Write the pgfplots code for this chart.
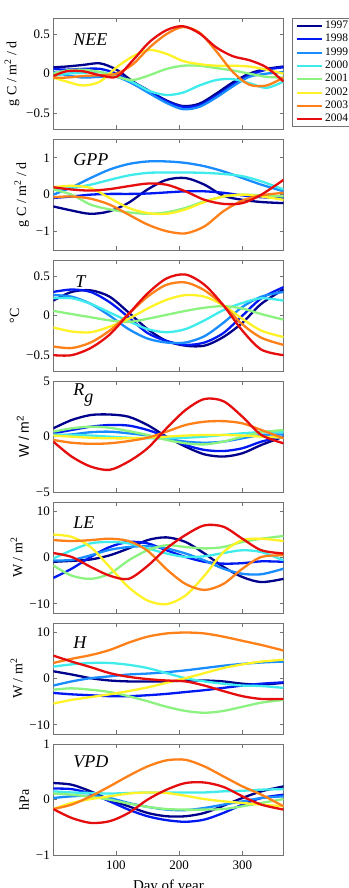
\documentclass[border=0pt]{standalone}
\usepackage{pgfplots}
\usepackage{pgfplotstable}
\pgfplotsset{compat=1.18}
\usepackage{fontspec}
\setmainfont{Liberation Serif}
\newfontfamily\sansfont{Liberation Sans}

% one colour per year (jet-like sequence)
\definecolor{c1997}{rgb}{0.00,0.00,0.55}
\definecolor{c1998}{rgb}{0.00,0.10,0.95}
\definecolor{c1999}{rgb}{0.10,0.55,1.00}
\definecolor{c2000}{rgb}{0.25,0.92,0.92}
\definecolor{c2001}{rgb}{0.55,0.95,0.50}
\definecolor{c2002}{rgb}{1.00,0.95,0.15}
\definecolor{c2003}{rgb}{1.00,0.50,0.10}
\definecolor{c2004}{rgb}{0.90,0.05,0.05}
\definecolor{axgray}{gray}{0.45}

% seasonal anomalies per year
\pgfplotstableread{
d   y1997 y1998 y1999 y2000 y2001 y2002 y2003 y2004
1    0.08  0.06  0.02 -0.03  0.00 -0.05 -0.05 -0.03
22   0.09  0.05 -0.02  0.00  0.04 -0.10 -0.05  0.03
48   0.11  0.06 -0.05  0.01  0.05 -0.15 -0.03  0.03
75   0.13  0.06 -0.04  0.02  0.02 -0.10 -0.02 -0.02
101  0.05  0.00 -0.04 -0.03 -0.04  0.08  0.00 -0.04
127 -0.10 -0.12 -0.13 -0.11 -0.08  0.22  0.12  0.17
153 -0.22 -0.23 -0.25 -0.22 -0.02  0.30  0.33  0.40
180 -0.34 -0.35 -0.37 -0.27  0.06  0.25  0.50  0.55
206 -0.41 -0.42 -0.45 -0.24  0.10  0.16  0.59  0.60
232 -0.38 -0.40 -0.42 -0.15  0.10  0.12  0.52  0.51
259 -0.25 -0.28 -0.30 -0.08  0.07  0.10  0.28  0.33
285 -0.11 -0.14 -0.16 -0.07  0.04  0.10  0.02  0.22
311  0.00 -0.02 -0.04 -0.12  0.00  0.09 -0.14  0.17
338  0.06  0.05  0.00 -0.18 -0.04  0.05 -0.15  0.08
365  0.09  0.08  0.02 -0.10 -0.05  0.00 -0.05 -0.10
}\tblNEE

\pgfplotstableread{
d   y1997 y1998 y1999 y2000 y2001 y2002 y2003 y2004
1   -0.32 -0.09  0.00  0.14  0.14  0.20 -0.07  0.20
30  -0.43 -0.05  0.20  0.18  0.00  0.24 -0.05  0.14
60  -0.52  0.00  0.45  0.27 -0.27  0.18 -0.11  0.11
90  -0.45  0.02  0.68  0.40 -0.40 -0.09 -0.27  0.15
120 -0.22  0.02  0.83  0.52 -0.48 -0.36 -0.54  0.23
150  0.14  0.03  0.90  0.59 -0.52 -0.50 -0.81  0.30
180  0.40  0.06  0.90  0.60 -0.48 -0.52 -0.99  0.27
210  0.45  0.09  0.86  0.60 -0.36 -0.40 -1.05  0.09
240  0.27  0.09  0.77  0.59 -0.18 -0.20 -0.86 -0.14
270 -0.03  0.05  0.63  0.56 -0.05 -0.05 -0.45 -0.25
300 -0.14 -0.02  0.45  0.50  0.00  0.00 -0.16 -0.23
330 -0.20 -0.07  0.27  0.36 -0.02 -0.05 -0.02  0.00
365 -0.23 -0.09  0.09  0.14 -0.05 -0.14  0.05  0.40
}\tblGPP

\pgfplotstableread{
d   y1997 y1998 y1999 y2000 y2001 y2002 y2003 y2004
1    0.19  0.30  0.26  0.22  0.06 -0.15 -0.39 -0.50
30   0.30  0.33  0.24  0.22  0.02 -0.20 -0.41 -0.50
60   0.32  0.30  0.15  0.15 -0.02 -0.21 -0.34 -0.41
90   0.24  0.17  0.00  0.04 -0.06 -0.14 -0.19 -0.24
120  0.04 -0.02 -0.17 -0.07 -0.08 -0.04  0.02  0.02
150 -0.17 -0.22 -0.29 -0.17 -0.04  0.09  0.24  0.28
180 -0.32 -0.32 -0.34 -0.21  0.01  0.20  0.39  0.47
210 -0.38 -0.37 -0.34 -0.17  0.06  0.26  0.42  0.52
240 -0.38 -0.34 -0.26 -0.06  0.10  0.24  0.32  0.39
270 -0.27 -0.22 -0.09  0.07  0.12  0.13  0.13  0.13
300 -0.09  0.00  0.11  0.16  0.09 -0.04 -0.11 -0.19
330  0.15  0.22  0.24  0.22  0.02 -0.19 -0.28 -0.43
365  0.33  0.36  0.30  0.19 -0.05 -0.27 -0.37 -0.50
}\tblT

\pgfplotstableread{
d   y1997 y1998 y1999 y2000 y2001 y2002 y2003 y2004
1    0.75  0.30  0.05  0.20  0.45  0.10 -0.30 -0.45
30   1.50  0.60  0.20  0.15  0.75  0.00 -0.55 -1.80
60   1.95  0.90  0.40  0.10  0.90 -0.10 -0.65 -2.70
90   2.00  1.05  0.45  0.00  0.80 -0.15 -0.60 -3.00
120  1.80  1.00  0.30 -0.10  0.50 -0.15 -0.40 -2.25
150  1.05  0.60  0.10 -0.15  0.15 -0.10 -0.10 -1.05
180  0.00  0.00 -0.20 -0.15 -0.30  0.00  0.45  0.75
210 -0.90 -0.75 -0.45 -0.10 -0.60  0.10  1.05  2.40
240 -1.60 -1.20 -0.55  0.00 -0.70  0.15  1.35  3.40
270 -1.80 -1.30 -0.45  0.15 -0.45  0.15  1.40  3.20
300 -1.50 -1.05 -0.15  0.30  0.00  0.10  1.20  1.80
330 -0.75 -0.45  0.15  0.40  0.40  0.00  0.60  0.15
365  0.00  0.00  0.20  0.40  0.60 -0.10 -0.15 -0.60
}\tblRg

\pgfplotstableread{
d   y1997 y1998 y1999 y2000 y2001 y2002 y2003 y2004
1   -0.9  -4.4  -0.6  -0.2  -1.7   5.0   3.8   1.0
30  -0.7  -2.4  -0.5   1.6  -3.9   4.5   3.6   0.15
60  -0.4   0.15  0.5   3.1  -4.6   2.3   3.8  -2.0
90   0.5   2.3   1.7   3.4  -3.5  -2.0   4.1  -3.9
120  2.0   3.4   2.3   3.1  -0.6  -6.4   3.6  -4.6
150  3.8   3.1   2.5   2.0   1.6  -9.3   1.5  -1.8
180  4.4   1.6   2.0   0.9   2.7 -10.1  -2.5   2.0
210  3.4   0.15  0.9   0.15  2.3  -8.2  -5.7   4.9
240  0.9  -0.9  -0.6   0.3   2.0  -3.9  -7.0   7.0
270 -2.0  -1.3  -2.4   1.0   2.3   1.2  -5.7   6.7
300 -4.2  -1.2  -3.5   1.6   3.4   3.8  -2.4   4.1
330 -5.3  -0.8  -3.6   1.2   4.1   4.1   0.15  1.6
365 -4.6  -0.9  -2.4  -0.6   4.7   3.6   0.5   0.9
}\tblLE

\pgfplotstableread{
d   y1997 y1998 y1999 y2000 y2001 y2002 y2003 y2004
1    1.6  -3.1  -1.5   2.6  -2.4  -5.4   3.4   5.0
30   0.9  -3.4  -0.6   3.1  -2.1  -4.6   4.3   3.7
60   0.1  -3.6   0.1   3.4  -2.4  -4.0   5.1   2.5
90  -0.4  -3.8   0.5   3.4  -2.9  -3.4   6.2   1.2
120 -0.6  -3.8   0.9   3.0  -3.8  -2.7   7.8   0.4
150 -0.6  -3.6   1.1   2.3  -4.9  -1.9   9.1  -0.1
180 -0.6  -3.3   1.4   1.2  -6.1  -0.9   9.8  -0.4
210 -0.4  -2.9   1.8   0.1  -7.0   0.1  10.0  -0.6
240 -0.4  -2.5   2.3  -0.6  -7.4   1.2   9.8  -1.5
270 -0.6  -2.0   2.8  -1.1  -7.0   2.3   9.1  -2.7
300 -1.1  -1.5   3.2  -1.5  -6.1   3.1   8.2  -3.8
330 -1.3  -1.1   3.5  -1.6  -5.2   3.7   7.3  -4.4
365 -0.9  -0.8   3.7  -2.0  -4.6   4.1   6.1  -4.4
}\tblH

\pgfplotstableread{
d   y1997 y1998 y1999 y2000 y2001 y2002 y2003 y2004
1    0.30  0.20  0.03  0.15  0.11 -0.17 -0.17 -0.17
30   0.27  0.19  0.06  0.13  0.09 -0.06 -0.09 -0.33
60   0.15  0.11  0.07  0.12  0.05  0.01  0.06 -0.42
90   0.00 -0.03  0.03  0.11  0.00  0.06  0.24 -0.39
120 -0.12 -0.18 -0.06  0.12 -0.07  0.11  0.43 -0.24
150 -0.24 -0.30 -0.13  0.13 -0.13  0.13  0.60  0.00
180 -0.30 -0.37 -0.18  0.13 -0.17  0.12  0.71  0.18
210 -0.30 -0.40 -0.19  0.13 -0.18  0.07  0.72  0.30
240 -0.24 -0.36 -0.15  0.13 -0.18  0.01  0.60  0.31
270 -0.11 -0.24 -0.09  0.15 -0.17 -0.03  0.42  0.23
300  0.03 -0.09 -0.03  0.16 -0.12 -0.06  0.24  0.06
330  0.15  0.03  0.03  0.18 -0.06 -0.09  0.09 -0.09
365  0.24  0.09  0.06  0.19  0.01 -0.12 -0.12 -0.18
}\tblVPD

\newcommand{\yearplots}[1]{%
  \addplot[c1997] table[x=d,y=y1997]{#1};
  \addplot[c1998] table[x=d,y=y1998]{#1};
  \addplot[c1999] table[x=d,y=y1999]{#1};
  \addplot[c2000] table[x=d,y=y2000]{#1};
  \addplot[c2001] table[x=d,y=y2001]{#1};
  \addplot[c2002] table[x=d,y=y2002]{#1};
  \addplot[c2003] table[x=d,y=y2003]{#1};
  \addplot[c2004] table[x=d,y=y2004]{#1};
}

\pgfplotsset{
  panel/.style={
    at={(53.3pt,#1)}, anchor=south west,
    scale only axis, width=230.2pt, height=110.7pt,
    xmin=1, xmax=365,
    xtick={100,200,300}, xticklabels={},
    xtick pos=both, ytick pos=both, tick align=inside,
    major tick length=4pt,
    axis line style={axgray, line width=0.7pt},
    tick style={axgray, line width=0.7pt},
    ticklabel style={font=\fontsize{13}{15}\selectfont},
    ylabel style={font=\fontsize{14}{16}\selectfont},
    every axis plot/.append style={line width=2.3pt, smooth, no marks},
  },
}
\tikzset{
  tag/.style={anchor=west, font=\fontsize{18}{20}\selectfont\itshape,
    xshift=16.5pt, yshift=-21pt},
}

\begin{document}
\begin{tikzpicture}
% NEE with the year legend
\begin{axis}[panel=759pt,
  ymin=-0.7, ymax=0.7, ytick={-0.5,0,0.5}, yticklabels={−0.5,0,0.5},
  ylabel={g C / m\textsuperscript{2} / d},
  legend entries={1997,1998,1999,2000,2001,2002,2003,2004},
  legend cell align=left,
  legend style={at={(1,1)}, anchor=north west, xshift=8.2pt,
    draw=axgray, line width=0.7pt, font=\fontsize{11.5}{13}\selectfont,
    inner xsep=3.5pt, inner ysep=0.75pt, row sep=0pt, column sep=1.5pt,
    nodes={inner sep=1.15pt, text height=8pt, text depth=3pt}},
  legend image code/.code={\draw[#1, line width=2pt] (0pt,0pt) -- (25pt,0pt);},
]
\yearplots{\tblNEE}
\node[tag] at (rel axis cs:0,1) {NEE};
\end{axis}

% GPP
\begin{axis}[panel=638pt,
  ymin=-1.5, ymax=1.5, ytick={-1,0,1}, yticklabels={−1,0,1},
  ylabel={g C / m\textsuperscript{2} / d}]
\yearplots{\tblGPP}
\node[tag, yshift=1pt] at (rel axis cs:0,1) {GPP};
\end{axis}

% air temperature
\begin{axis}[panel=517pt,
  ymin=-0.7, ymax=0.7, ytick={-0.5,0,0.5}, yticklabels={−0.5,0,0.5},
  ylabel={°C}]
\yearplots{\tblT}
\node[tag, xshift=2pt] at (rel axis cs:0,1) {T};
\end{axis}

% global radiation
\begin{axis}[panel=396pt,
  ymin=-5, ymax=5, ytick={-5,0,5}, yticklabels={−5,0,5},
  ylabel={\sansfont W / m\textsuperscript{2}}]
\yearplots{\tblRg}
\node[tag, yshift=7pt] at (rel axis cs:0,1) {R\raisebox{-7pt}{g}};
\end{axis}

% latent heat
\begin{axis}[panel=275pt,
  ymin=-12, ymax=12, ytick={-10,0,10}, yticklabels={−10,0,10},
  ylabel={W / m\textsuperscript{2}}]
\yearplots{\tblLE}
\node[tag, yshift=1pt] at (rel axis cs:0,1) {LE};
\end{axis}

% sensible heat
\begin{axis}[panel=154pt,
  ymin=-12, ymax=12, ytick={-10,0,10}, yticklabels={−10,0,10},
  ylabel={W / m\textsuperscript{2}}]
\yearplots{\tblH}
\node[tag, yshift=2pt] at (rel axis cs:0,1) {H};
\end{axis}

% vapour pressure deficit
\begin{axis}[panel=33pt,
  ymin=-1, ymax=1, ytick={-1,0,1}, yticklabels={−1,0,1},
  ylabel={hPa},
  xticklabels={100,200,300},
  xticklabel style={yshift=-2pt},
  xlabel={Day of year},
  xlabel style={font=\fontsize{15}{17}\selectfont, yshift=-4pt}]
\yearplots{\tblVPD}
\node[tag, yshift=4pt] at (rel axis cs:0,1) {VPD};
\end{axis}

\pgfresetboundingbox
\path[use as bounding box] (0pt,0pt) rectangle (348pt,888pt);
\end{tikzpicture}
\end{document}
